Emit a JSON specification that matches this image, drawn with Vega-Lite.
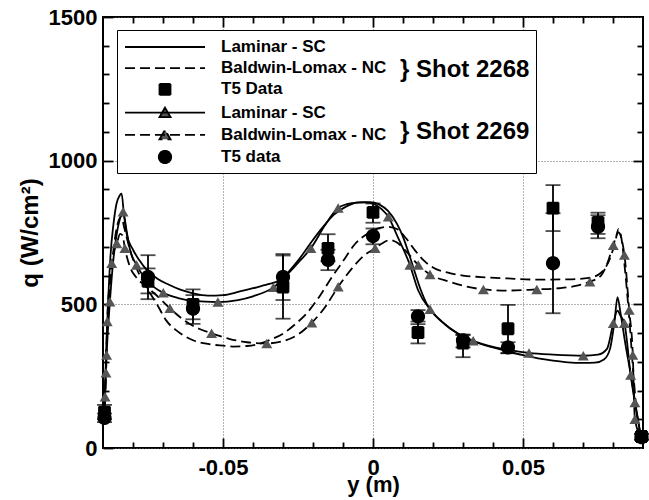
{
  "$schema": "https://vega.github.io/schema/vega-lite/v6.json",
  "width": 540,
  "height": 431,
  "autosize": {"type": "none"},
  "padding": {"left": 103, "top": 17, "right": 6, "bottom": 52},
  "background": "white",
  "config": {
    "view": {"stroke": "black", "strokeWidth": 2},
    "font": "Liberation Sans",
    "axis": {
      "domain": false,
      "labelFont": "Liberation Sans",
      "labelFontSize": 22,
      "labelFontWeight": "bold",
      "labelColor": "black",
      "labelFlush": false,
      "labelOverlap": false,
      "titleFont": "Liberation Sans",
      "titleFontSize": 24,
      "titleFontWeight": "bold",
      "titleColor": "black",
      "tickColor": "black",
      "tickWidth": 1.8,
      "gridColor": "#666666",
      "gridDash": [1, 2],
      "gridWidth": 1
    }
  },
  "datasets": {
    "curves": [
      {"series": "2268 Laminar - SC", "x": -0.0897, "q": 100},
      {"series": "2268 Laminar - SC", "x": -0.0893, "q": 220},
      {"series": "2268 Laminar - SC", "x": -0.0888, "q": 380},
      {"series": "2268 Laminar - SC", "x": -0.0882, "q": 530},
      {"series": "2268 Laminar - SC", "x": -0.0875, "q": 670},
      {"series": "2268 Laminar - SC", "x": -0.0865, "q": 780},
      {"series": "2268 Laminar - SC", "x": -0.0855, "q": 850},
      {"series": "2268 Laminar - SC", "x": -0.0845, "q": 878},
      {"series": "2268 Laminar - SC", "x": -0.0838, "q": 885},
      {"series": "2268 Laminar - SC", "x": -0.083, "q": 810},
      {"series": "2268 Laminar - SC", "x": -0.082, "q": 740},
      {"series": "2268 Laminar - SC", "x": -0.08, "q": 690},
      {"series": "2268 Laminar - SC", "x": -0.078, "q": 655},
      {"series": "2268 Laminar - SC", "x": -0.075, "q": 615},
      {"series": "2268 Laminar - SC", "x": -0.072, "q": 590},
      {"series": "2268 Laminar - SC", "x": -0.068, "q": 568},
      {"series": "2268 Laminar - SC", "x": -0.064, "q": 550},
      {"series": "2268 Laminar - SC", "x": -0.06, "q": 538},
      {"series": "2268 Laminar - SC", "x": -0.055, "q": 530},
      {"series": "2268 Laminar - SC", "x": -0.05, "q": 532},
      {"series": "2268 Laminar - SC", "x": -0.045, "q": 543},
      {"series": "2268 Laminar - SC", "x": -0.04, "q": 556},
      {"series": "2268 Laminar - SC", "x": -0.035, "q": 570},
      {"series": "2268 Laminar - SC", "x": -0.031, "q": 585},
      {"series": "2268 Laminar - SC", "x": -0.028, "q": 615},
      {"series": "2268 Laminar - SC", "x": -0.025, "q": 652},
      {"series": "2268 Laminar - SC", "x": -0.021, "q": 710},
      {"series": "2268 Laminar - SC", "x": -0.017, "q": 765},
      {"series": "2268 Laminar - SC", "x": -0.013, "q": 812},
      {"series": "2268 Laminar - SC", "x": -0.009, "q": 840},
      {"series": "2268 Laminar - SC", "x": -0.005, "q": 855},
      {"series": "2268 Laminar - SC", "x": -0.001, "q": 856},
      {"series": "2268 Laminar - SC", "x": 0.002, "q": 848},
      {"series": "2268 Laminar - SC", "x": 0.005, "q": 825},
      {"series": "2268 Laminar - SC", "x": 0.008, "q": 780},
      {"series": "2268 Laminar - SC", "x": 0.01, "q": 735},
      {"series": "2268 Laminar - SC", "x": 0.012, "q": 675},
      {"series": "2268 Laminar - SC", "x": 0.014, "q": 610},
      {"series": "2268 Laminar - SC", "x": 0.016, "q": 548},
      {"series": "2268 Laminar - SC", "x": 0.018, "q": 500},
      {"series": "2268 Laminar - SC", "x": 0.02, "q": 470},
      {"series": "2268 Laminar - SC", "x": 0.024, "q": 430},
      {"series": "2268 Laminar - SC", "x": 0.028, "q": 400},
      {"series": "2268 Laminar - SC", "x": 0.032, "q": 378},
      {"series": "2268 Laminar - SC", "x": 0.036, "q": 362},
      {"series": "2268 Laminar - SC", "x": 0.04, "q": 350},
      {"series": "2268 Laminar - SC", "x": 0.045, "q": 336},
      {"series": "2268 Laminar - SC", "x": 0.05, "q": 323},
      {"series": "2268 Laminar - SC", "x": 0.055, "q": 312},
      {"series": "2268 Laminar - SC", "x": 0.06, "q": 304},
      {"series": "2268 Laminar - SC", "x": 0.065, "q": 298},
      {"series": "2268 Laminar - SC", "x": 0.07, "q": 296},
      {"series": "2268 Laminar - SC", "x": 0.074, "q": 297},
      {"series": "2268 Laminar - SC", "x": 0.077, "q": 308},
      {"series": "2268 Laminar - SC", "x": 0.079, "q": 345},
      {"series": "2268 Laminar - SC", "x": 0.0805, "q": 440},
      {"series": "2268 Laminar - SC", "x": 0.0815, "q": 525},
      {"series": "2268 Laminar - SC", "x": 0.0825, "q": 470},
      {"series": "2268 Laminar - SC", "x": 0.084, "q": 370},
      {"series": "2268 Laminar - SC", "x": 0.086, "q": 250},
      {"series": "2268 Laminar - SC", "x": 0.088, "q": 120},
      {"series": "2268 Laminar - SC", "x": 0.0893, "q": 40},

      {"series": "2268 Baldwin-Lomax - NC", "x": -0.0897, "q": 100},
      {"series": "2268 Baldwin-Lomax - NC", "x": -0.0893, "q": 200},
      {"series": "2268 Baldwin-Lomax - NC", "x": -0.0888, "q": 350},
      {"series": "2268 Baldwin-Lomax - NC", "x": -0.088, "q": 500},
      {"series": "2268 Baldwin-Lomax - NC", "x": -0.087, "q": 640},
      {"series": "2268 Baldwin-Lomax - NC", "x": -0.086, "q": 730},
      {"series": "2268 Baldwin-Lomax - NC", "x": -0.085, "q": 785},
      {"series": "2268 Baldwin-Lomax - NC", "x": -0.0838, "q": 805},
      {"series": "2268 Baldwin-Lomax - NC", "x": -0.083, "q": 770},
      {"series": "2268 Baldwin-Lomax - NC", "x": -0.081, "q": 690},
      {"series": "2268 Baldwin-Lomax - NC", "x": -0.079, "q": 630},
      {"series": "2268 Baldwin-Lomax - NC", "x": -0.077, "q": 585},
      {"series": "2268 Baldwin-Lomax - NC", "x": -0.075, "q": 550},
      {"series": "2268 Baldwin-Lomax - NC", "x": -0.072, "q": 500},
      {"series": "2268 Baldwin-Lomax - NC", "x": -0.069, "q": 445},
      {"series": "2268 Baldwin-Lomax - NC", "x": -0.065, "q": 405},
      {"series": "2268 Baldwin-Lomax - NC", "x": -0.06, "q": 375},
      {"series": "2268 Baldwin-Lomax - NC", "x": -0.055, "q": 362},
      {"series": "2268 Baldwin-Lomax - NC", "x": -0.05, "q": 356},
      {"series": "2268 Baldwin-Lomax - NC", "x": -0.0466, "q": 353},
      {"series": "2268 Baldwin-Lomax - NC", "x": -0.042, "q": 355},
      {"series": "2268 Baldwin-Lomax - NC", "x": -0.038, "q": 362},
      {"series": "2268 Baldwin-Lomax - NC", "x": -0.034, "q": 378},
      {"series": "2268 Baldwin-Lomax - NC", "x": -0.03, "q": 398},
      {"series": "2268 Baldwin-Lomax - NC", "x": -0.026, "q": 430},
      {"series": "2268 Baldwin-Lomax - NC", "x": -0.022, "q": 470},
      {"series": "2268 Baldwin-Lomax - NC", "x": -0.018, "q": 525},
      {"series": "2268 Baldwin-Lomax - NC", "x": -0.014, "q": 590},
      {"series": "2268 Baldwin-Lomax - NC", "x": -0.01, "q": 650},
      {"series": "2268 Baldwin-Lomax - NC", "x": -0.006, "q": 710},
      {"series": "2268 Baldwin-Lomax - NC", "x": -0.002, "q": 745},
      {"series": "2268 Baldwin-Lomax - NC", "x": 0.002, "q": 765},
      {"series": "2268 Baldwin-Lomax - NC", "x": 0.005, "q": 770},
      {"series": "2268 Baldwin-Lomax - NC", "x": 0.008, "q": 762},
      {"series": "2268 Baldwin-Lomax - NC", "x": 0.011, "q": 730},
      {"series": "2268 Baldwin-Lomax - NC", "x": 0.014, "q": 688},
      {"series": "2268 Baldwin-Lomax - NC", "x": 0.017, "q": 652},
      {"series": "2268 Baldwin-Lomax - NC", "x": 0.02, "q": 628},
      {"series": "2268 Baldwin-Lomax - NC", "x": 0.025, "q": 610},
      {"series": "2268 Baldwin-Lomax - NC", "x": 0.03, "q": 600},
      {"series": "2268 Baldwin-Lomax - NC", "x": 0.036, "q": 595},
      {"series": "2268 Baldwin-Lomax - NC", "x": 0.045, "q": 590},
      {"series": "2268 Baldwin-Lomax - NC", "x": 0.055, "q": 586},
      {"series": "2268 Baldwin-Lomax - NC", "x": 0.065, "q": 587},
      {"series": "2268 Baldwin-Lomax - NC", "x": 0.072, "q": 592},
      {"series": "2268 Baldwin-Lomax - NC", "x": 0.076, "q": 610},
      {"series": "2268 Baldwin-Lomax - NC", "x": 0.079, "q": 660},
      {"series": "2268 Baldwin-Lomax - NC", "x": 0.0808, "q": 720},
      {"series": "2268 Baldwin-Lomax - NC", "x": 0.0818, "q": 762},
      {"series": "2268 Baldwin-Lomax - NC", "x": 0.0828, "q": 730},
      {"series": "2268 Baldwin-Lomax - NC", "x": 0.084, "q": 620},
      {"series": "2268 Baldwin-Lomax - NC", "x": 0.0855, "q": 440},
      {"series": "2268 Baldwin-Lomax - NC", "x": 0.087, "q": 230},
      {"series": "2268 Baldwin-Lomax - NC", "x": 0.0882, "q": 100},
      {"series": "2268 Baldwin-Lomax - NC", "x": 0.0893, "q": 40},

      {"series": "2269 Laminar - SC", "x": -0.0897, "q": 90},
      {"series": "2269 Laminar - SC", "x": -0.0893, "q": 178, "node": true},
      {"series": "2269 Laminar - SC", "x": -0.0888, "q": 324, "node": true},
      {"series": "2269 Laminar - SC", "x": -0.0877, "q": 509, "node": true},
      {"series": "2269 Laminar - SC", "x": -0.0866, "q": 650},
      {"series": "2269 Laminar - SC", "x": -0.0855, "q": 740},
      {"series": "2269 Laminar - SC", "x": -0.0843, "q": 800},
      {"series": "2269 Laminar - SC", "x": -0.0833, "q": 822, "node": true},
      {"series": "2269 Laminar - SC", "x": -0.0822, "q": 760},
      {"series": "2269 Laminar - SC", "x": -0.081, "q": 690},
      {"series": "2269 Laminar - SC", "x": -0.0788, "q": 637, "node": true},
      {"series": "2269 Laminar - SC", "x": -0.076, "q": 590},
      {"series": "2269 Laminar - SC", "x": -0.073, "q": 560},
      {"series": "2269 Laminar - SC", "x": -0.0699, "q": 540, "node": true},
      {"series": "2269 Laminar - SC", "x": -0.065, "q": 522},
      {"series": "2269 Laminar - SC", "x": -0.06, "q": 512},
      {"series": "2269 Laminar - SC", "x": -0.0517, "q": 508, "node": true},
      {"series": "2269 Laminar - SC", "x": -0.045, "q": 515},
      {"series": "2269 Laminar - SC", "x": -0.04, "q": 528},
      {"series": "2269 Laminar - SC", "x": -0.0332, "q": 559, "node": true},
      {"series": "2269 Laminar - SC", "x": -0.028, "q": 610},
      {"series": "2269 Laminar - SC", "x": -0.0245, "q": 650},
      {"series": "2269 Laminar - SC", "x": -0.0207, "q": 695, "node": true},
      {"series": "2269 Laminar - SC", "x": -0.016, "q": 775},
      {"series": "2269 Laminar - SC", "x": -0.0116, "q": 835, "node": true},
      {"series": "2269 Laminar - SC", "x": -0.007, "q": 852},
      {"series": "2269 Laminar - SC", "x": -0.003, "q": 855},
      {"series": "2269 Laminar - SC", "x": 0.0, "q": 850},
      {"series": "2269 Laminar - SC", "x": 0.003, "q": 830},
      {"series": "2269 Laminar - SC", "x": 0.0051, "q": 805, "node": true},
      {"series": "2269 Laminar - SC", "x": 0.008, "q": 740},
      {"series": "2269 Laminar - SC", "x": 0.0123, "q": 637, "node": true},
      {"series": "2269 Laminar - SC", "x": 0.015, "q": 550},
      {"series": "2269 Laminar - SC", "x": 0.019, "q": 483, "node": true},
      {"series": "2269 Laminar - SC", "x": 0.023, "q": 440},
      {"series": "2269 Laminar - SC", "x": 0.028, "q": 400},
      {"series": "2269 Laminar - SC", "x": 0.0334, "q": 373, "node": true},
      {"series": "2269 Laminar - SC", "x": 0.04, "q": 352},
      {"series": "2269 Laminar - SC", "x": 0.046, "q": 340},
      {"series": "2269 Laminar - SC", "x": 0.052, "q": 331, "node": true},
      {"series": "2269 Laminar - SC", "x": 0.06, "q": 325},
      {"series": "2269 Laminar - SC", "x": 0.0701, "q": 321, "node": true},
      {"series": "2269 Laminar - SC", "x": 0.075, "q": 325},
      {"series": "2269 Laminar - SC", "x": 0.078, "q": 345},
      {"series": "2269 Laminar - SC", "x": 0.0801, "q": 434, "node": true},
      {"series": "2269 Laminar - SC", "x": 0.0815, "q": 478},
      {"series": "2269 Laminar - SC", "x": 0.0825, "q": 460},
      {"series": "2269 Laminar - SC", "x": 0.0838, "q": 434, "node": true},
      {"series": "2269 Laminar - SC", "x": 0.0859, "q": 254, "node": true},
      {"series": "2269 Laminar - SC", "x": 0.0873, "q": 158, "node": true},
      {"series": "2269 Laminar - SC", "x": 0.0893, "q": 40},

      {"series": "2269 Baldwin-Lomax - NC", "x": -0.0897, "q": 100},
      {"series": "2269 Baldwin-Lomax - NC", "x": -0.0893, "q": 170},
      {"series": "2269 Baldwin-Lomax - NC", "x": -0.089, "q": 262, "node": true},
      {"series": "2269 Baldwin-Lomax - NC", "x": -0.0886, "q": 440, "node": true},
      {"series": "2269 Baldwin-Lomax - NC", "x": -0.0878, "q": 570},
      {"series": "2269 Baldwin-Lomax - NC", "x": -0.0871, "q": 643, "node": true},
      {"series": "2269 Baldwin-Lomax - NC", "x": -0.0862, "q": 690},
      {"series": "2269 Baldwin-Lomax - NC", "x": -0.0854, "q": 712, "node": true},
      {"series": "2269 Baldwin-Lomax - NC", "x": -0.0843, "q": 745},
      {"series": "2269 Baldwin-Lomax - NC", "x": -0.0835, "q": 740},
      {"series": "2269 Baldwin-Lomax - NC", "x": -0.0827, "q": 695, "node": true},
      {"series": "2269 Baldwin-Lomax - NC", "x": -0.081, "q": 630},
      {"series": "2269 Baldwin-Lomax - NC", "x": -0.079, "q": 595},
      {"series": "2269 Baldwin-Lomax - NC", "x": -0.076, "q": 565},
      {"series": "2269 Baldwin-Lomax - NC", "x": -0.072, "q": 530},
      {"series": "2269 Baldwin-Lomax - NC", "x": -0.0677, "q": 486, "node": true},
      {"series": "2269 Baldwin-Lomax - NC", "x": -0.063, "q": 445},
      {"series": "2269 Baldwin-Lomax - NC", "x": -0.058, "q": 415},
      {"series": "2269 Baldwin-Lomax - NC", "x": -0.0538, "q": 399, "node": true},
      {"series": "2269 Baldwin-Lomax - NC", "x": -0.048, "q": 380},
      {"series": "2269 Baldwin-Lomax - NC", "x": -0.042, "q": 368},
      {"series": "2269 Baldwin-Lomax - NC", "x": -0.0354, "q": 364, "node": true},
      {"series": "2269 Baldwin-Lomax - NC", "x": -0.03, "q": 372},
      {"series": "2269 Baldwin-Lomax - NC", "x": -0.025, "q": 395},
      {"series": "2269 Baldwin-Lomax - NC", "x": -0.0204, "q": 436, "node": true},
      {"series": "2269 Baldwin-Lomax - NC", "x": -0.016, "q": 490},
      {"series": "2269 Baldwin-Lomax - NC", "x": -0.0116, "q": 561, "node": true},
      {"series": "2269 Baldwin-Lomax - NC", "x": -0.007, "q": 625},
      {"series": "2269 Baldwin-Lomax - NC", "x": -0.003, "q": 670},
      {"series": "2269 Baldwin-Lomax - NC", "x": 0.0007, "q": 695, "node": true},
      {"series": "2269 Baldwin-Lomax - NC", "x": 0.003, "q": 712},
      {"series": "2269 Baldwin-Lomax - NC", "x": 0.0057, "q": 724},
      {"series": "2269 Baldwin-Lomax - NC", "x": 0.008, "q": 715},
      {"series": "2269 Baldwin-Lomax - NC", "x": 0.011, "q": 685},
      {"series": "2269 Baldwin-Lomax - NC", "x": 0.0151, "q": 637, "node": true},
      {"series": "2269 Baldwin-Lomax - NC", "x": 0.019, "q": 604, "node": true},
      {"series": "2269 Baldwin-Lomax - NC", "x": 0.025, "q": 580},
      {"series": "2269 Baldwin-Lomax - NC", "x": 0.03, "q": 565},
      {"series": "2269 Baldwin-Lomax - NC", "x": 0.0368, "q": 552, "node": true},
      {"series": "2269 Baldwin-Lomax - NC", "x": 0.045, "q": 548},
      {"series": "2269 Baldwin-Lomax - NC", "x": 0.0546, "q": 552, "node": true},
      {"series": "2269 Baldwin-Lomax - NC", "x": 0.062, "q": 556},
      {"series": "2269 Baldwin-Lomax - NC", "x": 0.068, "q": 565},
      {"series": "2269 Baldwin-Lomax - NC", "x": 0.0723, "q": 579, "node": true},
      {"series": "2269 Baldwin-Lomax - NC", "x": 0.076, "q": 600},
      {"series": "2269 Baldwin-Lomax - NC", "x": 0.078, "q": 640},
      {"series": "2269 Baldwin-Lomax - NC", "x": 0.0801, "q": 706, "node": true},
      {"series": "2269 Baldwin-Lomax - NC", "x": 0.0818, "q": 750},
      {"series": "2269 Baldwin-Lomax - NC", "x": 0.0838, "q": 672, "node": true},
      {"series": "2269 Baldwin-Lomax - NC", "x": 0.0854, "q": 480, "node": true},
      {"series": "2269 Baldwin-Lomax - NC", "x": 0.0866, "q": 324, "node": true},
      {"series": "2269 Baldwin-Lomax - NC", "x": 0.0873, "q": 100, "node": true},
      {"series": "2269 Baldwin-Lomax - NC", "x": 0.0893, "q": 40}
    ],
    "t5": [
      {"series": "2268 T5 Data", "x": -0.0895, "q": 125, "lo": 100, "hi": 150},
      {"series": "2268 T5 Data", "x": -0.075, "q": 580, "lo": 538, "hi": 625},
      {"series": "2268 T5 Data", "x": -0.06, "q": 500, "lo": 448, "hi": 552},
      {"series": "2268 T5 Data", "x": -0.03, "q": 560, "lo": 450, "hi": 670},
      {"series": "2268 T5 Data", "x": -0.015, "q": 695, "lo": 650, "hi": 744},
      {"series": "2268 T5 Data", "x": 0.0, "q": 820, "lo": 784, "hi": 851},
      {"series": "2268 T5 Data", "x": 0.015, "q": 402, "lo": 364, "hi": 440},
      {"series": "2268 T5 Data", "x": 0.03, "q": 365, "lo": 316, "hi": 393},
      {"series": "2268 T5 Data", "x": 0.045, "q": 415, "lo": 330, "hi": 498},
      {"series": "2268 T5 Data", "x": 0.06, "q": 835, "lo": 755, "hi": 915},
      {"series": "2268 T5 Data", "x": 0.075, "q": 785, "lo": 745, "hi": 819},
      {"series": "2268 T5 Data", "x": 0.0895, "q": 40, "lo": 30, "hi": 50},
      {"series": "2269 T5 data", "x": -0.0895, "q": 105, "lo": 90, "hi": 120},
      {"series": "2269 T5 data", "x": -0.075, "q": 595, "lo": 518, "hi": 671},
      {"series": "2269 T5 data", "x": -0.06, "q": 485, "lo": 432, "hi": 532},
      {"series": "2269 T5 data", "x": -0.03, "q": 595, "lo": 515, "hi": 675},
      {"series": "2269 T5 data", "x": -0.015, "q": 655, "lo": 619, "hi": 690},
      {"series": "2269 T5 data", "x": 0.0, "q": 738, "lo": 709, "hi": 764},
      {"series": "2269 T5 data", "x": 0.015, "q": 458, "lo": 431, "hi": 480},
      {"series": "2269 T5 data", "x": 0.03, "q": 375, "lo": 350, "hi": 395},
      {"series": "2269 T5 data", "x": 0.045, "q": 350, "lo": 330, "hi": 368},
      {"series": "2269 T5 data", "x": 0.06, "q": 643, "lo": 469, "hi": 817},
      {"series": "2269 T5 data", "x": 0.075, "q": 770, "lo": 730, "hi": 810},
      {"series": "2269 T5 data", "x": 0.0895, "q": 38, "lo": 28, "hi": 48}
    ]
  },
  "resolve": {"axis": {"x": "independent", "y": "independent"}},
  "layer": [
    {
      "data": {"name": "curves"},
      "transform": [{"filter": "indexof(datum.series, 'Laminar') >= 0"}],
      "mark": {"type": "line", "color": "black", "strokeWidth": 1.8, "interpolate": "monotone", "clip": true},
      "encoding": {
        "x": {
          "field": "x", "type": "quantitative",
          "scale": {"domain": [-0.09, 0.09], "nice": false, "zero": false},
          "axis": {
            "orient": "bottom",
            "values": [-0.05, 0, 0.05],
            "labelExpr": "datum.value == 0 ? '0' : ((datum.value < 0 ? '-' : '') + format(abs(datum.value), '.2f'))",
            "tickSize": -10,
            "grid": true,
            "labelPadding": 19,
            "title": "y (m)",
            "titleFontSize": 22,
            "titlePadding": -4
          }
        },
        "y": {
          "field": "q", "type": "quantitative",
          "scale": {"domain": [0, 1500], "nice": false, "zero": false},
          "axis": {
            "orient": "left",
            "values": [0, 500, 1000, 1500],
            "format": "d",
            "tickSize": -10,
            "grid": true,
            "labelPadding": 16,
            "title": "q (W/cm²)",
            "titlePadding": 6
          }
        },
        "detail": {"field": "series"}
      }
    },
    {
      "data": {"name": "curves"},
      "transform": [{"filter": "indexof(datum.series, 'Baldwin') >= 0"}],
      "mark": {"type": "line", "color": "black", "strokeWidth": 1.8, "strokeDash": [10, 5], "interpolate": "monotone", "clip": true},
      "encoding": {
        "x": {
          "field": "x", "type": "quantitative",
          "axis": {
            "orient": "bottom",
            "values": [-0.08, -0.07, -0.06, -0.04, -0.03, -0.02, -0.01, 0.01, 0.02, 0.03, 0.04, 0.06, 0.07, 0.08],
            "labels": false, "grid": false, "title": null, "tickSize": 6, "offset": -6
          }
        },
        "y": {
          "field": "q", "type": "quantitative",
          "axis": {
            "orient": "left",
            "values": [100, 200, 300, 400, 600, 700, 800, 900, 1100, 1200, 1300, 1400],
            "labels": false, "grid": false, "title": null, "tickSize": 6, "offset": -6
          }
        },
        "detail": {"field": "series"}
      }
    },
    {
      "data": {"name": "t5"},
      "mark": {"type": "errorbar", "color": "black", "thickness": 1.8, "size": 15, "ticks": true},
      "encoding": {
        "x": {"field": "x", "type": "quantitative", "axis": null},
        "y": {"field": "lo", "type": "quantitative", "axis": null},
        "y2": {"field": "hi"}
      }
    },
    {
      "data": {"name": "curves"},
      "transform": [{"filter": "datum.node"}],
      "mark": {"type": "point", "shape": "triangle-up", "filled": true, "color": "#555555", "opacity": 1, "size": 120},
      "encoding": {
        "x": {
          "field": "x", "type": "quantitative",
          "axis": {"orient": "top", "values": [-0.05, 0, 0.05], "labels": false, "grid": false, "title": null, "tickSize": 10, "offset": -10}
        },
        "y": {
          "field": "q", "type": "quantitative",
          "axis": {"orient": "right", "values": [500, 1000], "labels": false, "grid": false, "title": null, "tickSize": 10, "offset": -10}
        }
      }
    },
    {
      "data": {"name": "t5"},
      "mark": {"type": "point", "filled": true, "stroke": "black", "strokeWidth": 1.8, "opacity": 1, "size": 400},
      "encoding": {
        "x": {
          "field": "x", "type": "quantitative",
          "axis": {
            "orient": "top",
            "values": [-0.08, -0.07, -0.06, -0.04, -0.03, -0.02, -0.01, 0.01, 0.02, 0.03, 0.04, 0.06, 0.07, 0.08],
            "labels": false, "grid": false, "title": null, "tickSize": 6, "offset": -6
          }
        },
        "y": {
          "field": "q", "type": "quantitative",
          "axis": {
            "orient": "right",
            "values": [100, 200, 300, 400, 600, 700, 800, 900, 1100, 1200, 1300, 1400],
            "labels": false, "grid": false, "title": null, "tickSize": 6, "offset": -6
          }
        },
        "color": {
          "field": "series", "type": "nominal",
          "scale": {
            "domain": ["2268 Laminar - SC", "2268 Baldwin-Lomax - NC", "2268 T5 Data", "2269 Laminar - SC", "2269 Baldwin-Lomax - NC", "2269 T5 data"],
            "range": ["black", "black", "black", "#555555", "#555555", "black"]
          }
        },
        "strokeDash": {
          "field": "series", "type": "nominal",
          "scale": {
            "domain": ["2268 Laminar - SC", "2268 Baldwin-Lomax - NC", "2268 T5 Data", "2269 Laminar - SC", "2269 Baldwin-Lomax - NC", "2269 T5 data"],
            "range": [[1, 0], [10, 5], [1, 0], [1, 0], [10, 5], [1, 0]]
          }
        },
        "shape": {
          "field": "series", "type": "nominal",
          "scale": {
            "domain": ["2268 Laminar - SC", "2268 Baldwin-Lomax - NC", "2268 T5 Data", "2269 Laminar - SC", "2269 Baldwin-Lomax - NC", "2269 T5 data"],
            "range": ["M-4,0H4", "M-4,0H4", "M-0.55,-0.55H0.55V0.55H-0.55Z", "M-4,0H4M-0.55,0.45L0,-0.5L0.55,0.45Z", "M-4,0H4M-0.55,0.45L0,-0.5L0.55,0.45Z", "M-0.62,0A0.62,0.62,0,1,0,0.62,0A0.62,0.62,0,1,0,-0.62,0Z"]
          },
          "legend": {
            "orient": "none",
            "legendX": 14,
            "legendY": 13,
            "direction": "vertical",
            "title": ["} Shot 2268", "} Shot 2269"],
            "titleOrient": "right",
            "titleAnchor": "middle",
            "titleBaseline": "middle",
            "titleAlign": "left",
            "titleFont": "Liberation Sans",
            "titleFontSize": 24,
            "titleFontWeight": "bold",
            "titleColor": "black",
            "titleLineHeight": 62,
            "titlePadding": 14,
            "labelExpr": "slice(datum.label, 5)",
            "labelFont": "Liberation Sans",
            "labelFontSize": 17,
            "labelFontWeight": "bold",
            "labelColor": "black",
            "labelLimit": 400,
            "symbolSize": 400,
            "symbolOffset": 31,
            "symbolStrokeColor": "black",
            "symbolStrokeWidth": 1.8,
            "labelOffset": 45,
            "rowPadding": 2.2,
            "padding": 6,
            "strokeColor": "black",
            "fillColor": "white",
            "cornerRadius": 0
          }
        }
      }
    }
  ]
}
